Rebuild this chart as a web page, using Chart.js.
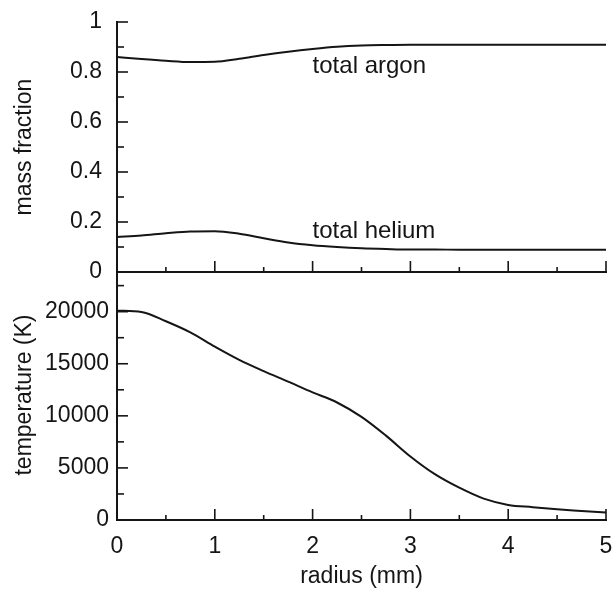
<!DOCTYPE html>
<html>
<head>
<meta charset="utf-8">
<script src="https://cdn.jsdelivr.net/npm/chart.js@4.4.1/dist/chart.umd.min.js"></script>
<style>
    body { margin: 0; background: #fff; }
    #wrap { position: relative; width: 613px; height: 592px; }
    #top { position: absolute; left: 0; top: 0; }
    #bottom { position: absolute; left: 0; top: 260px; }
</style>
</head>
<body>
<div id="wrap">
    <canvas id="bottom" width="613" height="332"></canvas>
    <canvas id="top" width="613" height="280"></canvas>
</div>
<script>
// radius (mm)
var radius = [0, 0.25, 0.5, 0.75, 1, 1.25, 1.5, 1.75, 2, 2.25, 2.5, 2.75, 3, 3.25, 3.5, 3.75, 4, 4.25, 4.5, 4.75, 5];
// mass fractions
var argon  = [0.860, 0.852, 0.845, 0.840, 0.841, 0.853, 0.868, 0.881, 0.892, 0.901, 0.906, 0.908, 0.909, 0.909, 0.909, 0.909, 0.909, 0.909, 0.909, 0.909, 0.909];
var helium = [0.140, 0.146, 0.155, 0.162, 0.163, 0.153, 0.135, 0.118, 0.107, 0.100, 0.095, 0.092, 0.090, 0.090, 0.089, 0.089, 0.089, 0.089, 0.089, 0.089, 0.089];
// temperature (K)
var temperature = [20100, 19970, 19080, 18010, 16640, 15370, 14290, 13280, 12250, 11280, 9900, 8100, 6100, 4400, 3100, 2050, 1450, 1230, 1030, 870, 710];

// labelled ticks, unlabelled ones sit half way between
var massTicks = [0, 0.2, 0.4, 0.6, 0.8, 1];
var tempTicks = [0, 5000, 10000, 15000, 20000];
var radiusTicks = [0, 1, 2, 3, 4, 5];

var labels = [
    { text: 'total argon', x: 2.0, y: 0.824 },
    { text: 'total helium', x: 2.0, y: 0.163 }
];

var FONT = 'Liberation Sans, Arial, Helvetica, sans-serif';
var INK = '#151515';

function pts(ys) {
    return radius.map(function (r, i) { return { x: r, y: ys[i] }; });
}

function isIn(list, v) {
    for (var i = 0; i < list.length; i++) {
        if (Math.abs(list[i] - v) < 1e-6) return true;
    }
    return false;
}

// major ticks plus the midpoints between them, clipped to the axis range
function withMinor(major, lo, hi) {
    var out = [];
    for (var i = 0; i < major.length; i++) {
        out.push(major[i]);
        var step = (i + 1 < major.length ? major[i + 1] : major[i] + (major[i] - major[i - 1])) - major[i];
        var mid = major[i] + step / 2;
        if (mid <= hi + 1e-9) out.push(mid);
    }
    return out.filter(function (v) { return v >= lo - 1e-9 && v <= hi + 1e-9; })
        .map(function (v) { return { value: Math.round(v * 1e6) / 1e6 }; });
}

// no extra room for overflowing labels, layout.padding alone places the plot
function noOverflow(s) {
    s.paddingTop = 0;
    s.paddingBottom = 0;
    s.paddingLeft = 0;
    s.paddingRight = 0;
}

// ticks pointing into the plot, long ones at labelled values
const inwardTicks = {
    id: 'inwardTicks',
    afterDraw(chart, args, opts) {
        const ctx = chart.ctx, area = chart.chartArea;
        const xs = chart.scales.x, ys = chart.scales.y;
        ctx.save();
        ctx.strokeStyle = INK;
        ctx.lineWidth = 1.6;
        xs.ticks.forEach(function (t) {
            var px = xs.getPixelForValue(t.value);
            var len = isIn(radiusTicks, t.value) ? 11 : 5;
            ctx.beginPath();
            ctx.moveTo(px, area.bottom);
            ctx.lineTo(px, area.bottom - len);
            ctx.stroke();
        });
        ys.ticks.forEach(function (t) {
            var py = ys.getPixelForValue(t.value);
            var len = isIn(opts.major, t.value) ? 11 : 7;
            ctx.beginPath();
            ctx.moveTo(area.left, py);
            ctx.lineTo(area.left + len, py);
            ctx.stroke();
        });
        ctx.restore();
    }
};

const curveLabels = {
    id: 'curveLabels',
    afterDatasetsDraw(chart, args, opts) {
        if (!opts.items) return;
        const ctx = chart.ctx;
        ctx.save();
        ctx.fillStyle = INK;
        ctx.font = '24px ' + FONT;
        ctx.textAlign = 'left';
        ctx.textBaseline = 'middle';
        opts.items.forEach(function (l) {
            ctx.fillText(l.text, chart.scales.x.getPixelForValue(l.x), chart.scales.y.getPixelForValue(l.y));
        });
        ctx.restore();
    }
};

function line(data) {
    return {
        data: pts(data),
        borderColor: INK,
        borderWidth: 2,
        pointRadius: 0,
        cubicInterpolationMode: 'monotone',
        fill: false
    };
}

function xScale(showLabels) {
    return {
        type: 'linear',
        min: 0,
        max: 5,
        afterBuildTicks: function (s) { s.ticks = withMinor(radiusTicks, 0, 5); },
        afterFit: function (s) { s.height = showLabels ? 72 : 8; noOverflow(s); },
        grid: { drawOnChartArea: false, drawTicks: false },
        border: { color: INK, width: 2 },
        ticks: {
            display: showLabels,
            autoSkip: false,
            maxRotation: 0,
            padding: 13,
            color: INK,
            font: { family: FONT, size: 23 },
            callback: function (v) { return isIn(radiusTicks, v) ? String(v) : ''; }
        },
        title: {
            display: showLabels,
            text: 'radius (mm)',
            color: INK,
            font: { family: FONT, size: 23 },
            padding: { top: 0, bottom: 2 }
        }
    };
}

function yScale(min, max, major, pad, fmt, title) {
    return {
        min: min,
        max: max,
        afterBuildTicks: function (s) { s.ticks = withMinor(major, min, max); },
        afterFit: function (s) { s.width = 117; noOverflow(s); },
        grid: { drawOnChartArea: false, drawTicks: false },
        border: { color: INK, width: 2 },
        ticks: {
            autoSkip: false,
            padding: pad,
            color: INK,
            font: { family: FONT, size: 23 },
            callback: function (v) { return isIn(major, v) ? fmt(v) : ''; }
        },
        title: {
            display: true,
            text: title,
            color: INK,
            font: { family: FONT, size: 23 },
            padding: { top: 11, bottom: 0 }
        }
    };
}

Chart.defaults.animation = false;

new Chart(document.getElementById('top'), {
    type: 'line',
    data: { datasets: [line(argon), line(helium)] },
    options: {
        responsive: false,
        layout: { padding: { top: 22, right: 7, bottom: 0, left: 0 } },
        plugins: {
            legend: { display: false },
            tooltip: { enabled: false },
            inwardTicks: { major: massTicks },
            curveLabels: { items: labels }
        },
        scales: {
            x: xScale(false),
            y: yScale(0, 1, massTicks, 15, function (v) { return String(Math.round(v * 10) / 10); }, 'mass fraction')
        }
    },
    plugins: [inwardTicks, curveLabels]
});

new Chart(document.getElementById('bottom'), {
    type: 'line',
    data: { datasets: [line(temperature)] },
    options: {
        responsive: false,
        layout: { padding: { top: 10, right: 7, bottom: 0, left: 0 } },
        plugins: {
            legend: { display: false },
            tooltip: { enabled: false },
            inwardTicks: { major: tempTicks },
            curveLabels: {}
        },
        scales: {
            x: xScale(true),
            y: yScale(0, 24000, tempTicks, 8, function (v) { return String(v); }, 'temperature (K)')
        }
    },
    plugins: [inwardTicks, curveLabels]
});
</script>
</body>
</html>
